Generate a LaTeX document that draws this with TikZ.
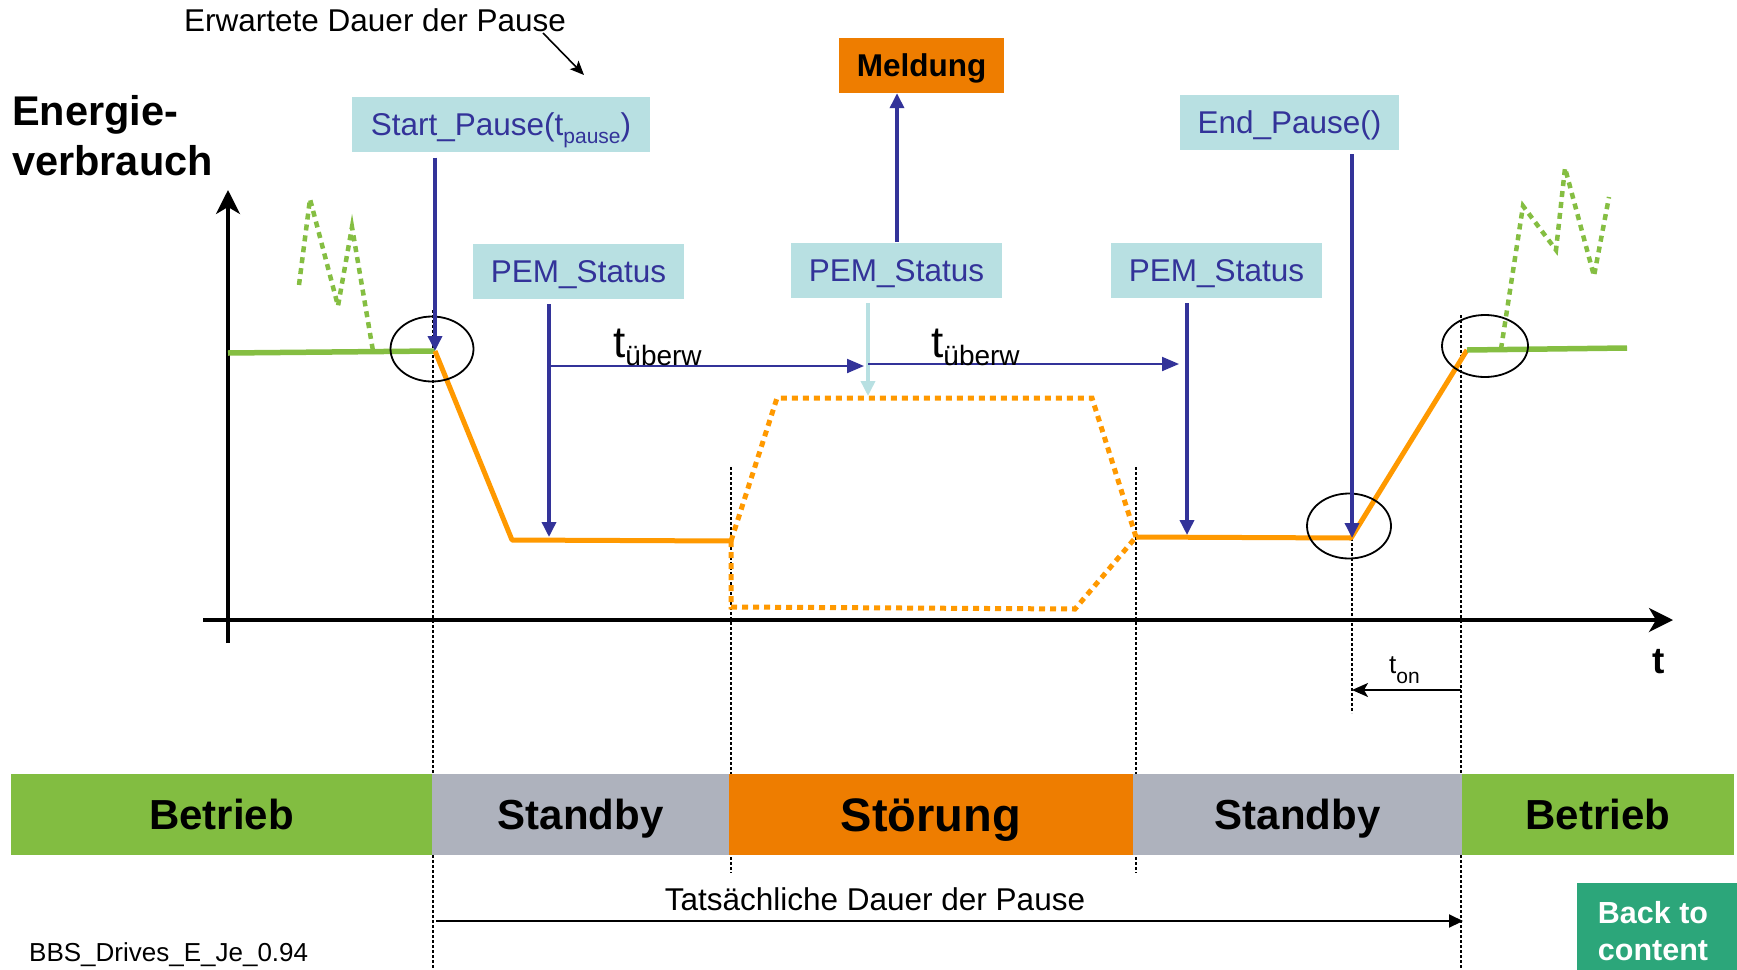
\documentclass[tikz,border=0pt]{standalone}
\usepackage{fontspec}
\setmainfont{Liberation Sans}
\usetikzlibrary{arrows.meta}
\definecolor{boxcyan}{RGB}{184,224,226}
\definecolor{pemblue}{RGB}{51,51,153}
\definecolor{boxorange}{RGB}{238,125,0}
\definecolor{lineorange}{RGB}{255,153,0}
\definecolor{linegreen}{RGB}{133,190,66}
\definecolor{bargreen}{RGB}{130,189,65}
\definecolor{bargrey}{RGB}{174,178,189}
\definecolor{backgreen}{RGB}{44,166,122}
\newcommand{\fsz}[1]{\fontsize{#1}{#1}\selectfont}
\begin{document}
\begin{tikzpicture}[x=1pt,y=-1pt,
  cyanbox/.style={fill=boxcyan,text=pemblue,font=\fsz{31.5},inner sep=0pt,minimum height=55pt,text height=22.6pt,text depth=0pt},
  barseg/.style={inner sep=0pt,minimum height=81pt,font=\bfseries\fsz{42},text height=30pt,text depth=0pt},
  plain/.style={inner sep=0pt},
  greenline/.style={draw=linegreen,line width=5.5pt},
  orangeline/.style={draw=lineorange,line width=5pt,line join=round},
  orangedot/.style={draw=lineorange,line width=5pt,dash pattern=on 6pt off 5pt},
  greendot/.style={draw=linegreen,line width=4.5pt,dash pattern=on 6pt off 5pt},
  vdot/.style={draw=black,line width=1.6pt,dash pattern=on 2.5pt off 2.5pt},
  ring/.style={draw=black,line width=1.8pt},
  bluearr/.style={draw=pemblue,line width=3.5pt,-{Triangle[length=15pt,width=14pt]}},
  bluethin/.style={draw=pemblue,line width=2pt,-{Triangle[length=17pt,width=14pt]}},
  cyanarr/.style={draw=boxcyan,line width=3.5pt,-{Triangle[length=15pt,width=14pt]}},
  axis/.style={draw=black,line width=3.5pt,-{Stealth[length=24pt,width=24pt,inset=7pt]}},
  blackarr/.style={draw=black,line width=2pt,-{Stealth[length=16pt,width=14pt,inset=4pt]}}
]
\useasboundingbox (0,0) rectangle (1737,969);
\clip (0,0) rectangle (1737,969);

% dotted verticals
\draw[vdot] (433,310) -- (433,969);
\draw[vdot] (731,467) -- (731,873);
\draw[vdot] (1136,467) -- (1136,873);
\draw[vdot] (1352,538) -- (1352,713);
\draw[vdot] (1461,315) -- (1461,969);

% axes
\draw[axis] (228,643) -- (228,190);
\draw[axis] (203,620) -- (1673,620);
\node[plain,anchor=base,font=\bfseries\fsz{37}] (tlab) at (1659,673) {t};

% texts top left
\node[plain,anchor=base west,font=\bfseries\fsz{41.5}] (en1) at (12,125) {Energie-};
\node[plain,anchor=base west,font=\bfseries\fsz{41.5}] (en2) at (12,175) {verbrauch};
\node[plain,anchor=base west,font=\fsz{31.5}] (erw) at (184,31) {Erwartete Dauer der Pause};
\coordinate (erwS) at (543,33);
\coordinate (erwE) at (584,75);
\draw[draw=black,line width=1.6pt,-{Stealth[length=14pt,width=12pt,inset=3pt]}] (erwS) -- (erwE);

% curve points
\coordinate (P0) at (228,353);
\coordinate (P1) at (435,351);
\coordinate (P2) at (512,540);
\coordinate (P3) at (731,541);
\coordinate (T1) at (777,398);
\coordinate (T2) at (1092,398);
\coordinate (P4) at (1136,537);
\coordinate (B1) at (731,607);
\coordinate (B2) at (1075,609);
\coordinate (P5) at (1351,538);
\coordinate (P6) at (1467,350);
\coordinate (P7) at (1627,348);

\draw[greendot] (299,285) -- (310,199) -- (338,306) -- (352,227) -- (373,351);
\draw[greendot] (1501,349) -- (1523,206) -- (1556,250) -- (1565,168) -- (1594,276) -- (1609,197);
\draw[orangedot] (P3) -- (T1) -- (T2) -- (P4);
\draw[orangedot] (P3) -- (B1) -- (B2) -- (P4);
\draw[greenline] (P0) -- (P1);
\draw[orangeline] (P1) -- (P2) -- (P3);
\draw[orangeline] (P4) -- (P5) -- (P6);
\draw[greenline] (P6) -- (P7);

% rings
\draw[ring] (432,349) ellipse [x radius=41.5, y radius=32.5];
\draw[ring] (1349,526) ellipse [x radius=42, y radius=32.5];
\draw[ring] (1485,346) ellipse [x radius=43, y radius=31];

% boxes
\node[cyanbox,minimum width=298pt] (sp) at (501,124) {Start\_Pause(t\raisebox{-8pt}{\fsz{21}pause})};
\node[fill=boxorange,inner sep=0pt,minimum width=165pt,minimum height=55pt,font=\bfseries\fsz{31.5},text height=22.6pt,text depth=0pt] (meld) at (921.5,65.5) {Meldung};
\node[cyanbox,minimum width=219pt] (ep) at (1289.5,122.5) {End\_Pause()};
\node[cyanbox,minimum width=211pt] (pem1) at (578.5,271.5) {PEM\_Status};
\node[cyanbox,minimum width=211pt] (pem2) at (896.5,270.5) {PEM\_Status};
\node[cyanbox,minimum width=211pt] (pem3) at (1216.5,270.5) {PEM\_Status};

% arrows
\coordinate (A2e) at (549,537);
\coordinate (A3e) at (1187,535);
\coordinate (A4e) at (1352,538);
\coordinate (Ce) at (868,396);
\coordinate (Me) at (897,242);
\draw[bluearr,shorten <=6pt] (sp.south -| P1) -- (P1);
\draw[bluearr,shorten <=5pt] (pem1.south -| A2e) -- (A2e);
\draw[bluearr,shorten <=5pt] (pem3.south -| A3e) -- (A3e);
\draw[bluearr,shorten <=4pt] (ep.south -| A4e) -- (A4e);
\draw[cyanarr,shorten <=5pt] (pem2.south -| Ce) -- (Ce);
\draw[bluearr] (Me) -- (meld.south -| Me);

\coordinate (H1s) at (549,366);
\coordinate (H1e) at (864,366);
\coordinate (H2s) at (868,364);
\coordinate (H2e) at (1179,364);
\draw[bluethin] (H1s) -- (H1e);
\draw[bluethin] (H2s) -- (H2e);
\node[plain,anchor=base west,font=\fsz{44}] (tu1) at (613,357) {t\raisebox{-8pt}{\fsz{28}überw}};
\node[plain,anchor=base west,font=\fsz{44}] (tu2) at (931,357) {t\raisebox{-8pt}{\fsz{28}überw}};

% t_on
\coordinate (onS) at (1461,690);
\coordinate (onE) at (1352,690);
\draw[blackarr] (onS) -- (onE);
\node[plain,anchor=base west,font=\fsz{26}] (ton) at (1389,673) {t\raisebox{-10pt}{\fsz{21}on}};

% status bar
\node[barseg,fill=bargreen,minimum width=421pt] (b1) at (221.5,814.5) {Betrieb};
\node[barseg,fill=bargrey,minimum width=297pt] (s1) at (580.5,814.5) {Standby};
\node[barseg,fill=boxorange,minimum width=404pt,font=\bfseries\fsz{47},text height=33.7pt] (st) at (931,814.5) {Störung};
\node[barseg,fill=bargrey,minimum width=329pt] (s2) at (1297.5,814.5) {Standby};
\node[barseg,fill=bargreen,minimum width=272pt] (b2) at (1598,814.5) {Betrieb};

% actual duration
\node[plain,anchor=base,font=\fsz{31.5}] (tat) at (875,910) {Tatsächliche Dauer der Pause};
\coordinate (tatS) at (436,921);
\coordinate (tatE) at (1463,921);
\draw[draw=black,line width=2pt,-{Triangle[length=14pt,width=13pt]}] (tatS) -- (tatE);

% footer
\node[plain,anchor=base west,font=\fsz{26}] (bbs) at (29,961) {BBS\_Drives\_E\_Je\_0.94};
\node[fill=backgreen,inner sep=0pt,minimum width=170pt,minimum height=100pt,anchor=north west] (back) at (1577,883) {};
\node[plain,anchor=base,text=white,font=\bfseries\fsz{30.5}] (back1) at (1653,923) {Back to};
\node[plain,anchor=base,text=white,font=\bfseries\fsz{30.5}] (back2) at (1653,960) {content};
\end{tikzpicture}
\end{document}
